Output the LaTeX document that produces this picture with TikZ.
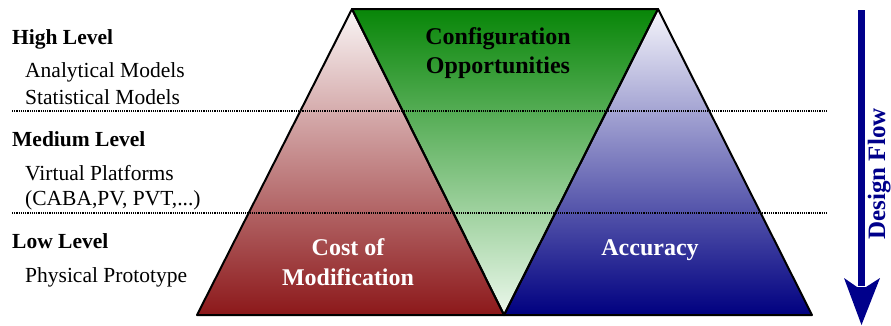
\documentclass[tikz,border=0pt]{standalone}
\usepackage{fontspec}
\setmainfont{Liberation Serif}
\definecolor{redbot}{RGB}{140,24,26}
\definecolor{redtop}{RGB}{250,246,246}
\definecolor{greentop}{RGB}{8,134,8}
\definecolor{greenbot}{RGB}{236,248,236}
\definecolor{bluetop}{RGB}{246,246,252}
\definecolor{bluebot}{RGB}{0,0,128}
\definecolor{flowblue}{RGB}{0,0,139}
\begin{document}
\begin{tikzpicture}[x=1pt,y=-1pt,
  outline/.style={draw=black,line width=2pt,line join=round},
  levelsep/.style={line width=1.1pt,dash pattern=on 1.1pt off 1.1pt},
  lvl/.style={anchor=base west,inner sep=0pt,font=\fontsize{21.5}{26}\selectfont\bfseries},
  sub/.style={anchor=base west,inner sep=0pt,font=\fontsize{21.5}{26}\selectfont},
  big/.style={anchor=base,inner sep=0pt,font=\fontsize{24}{29}\selectfont\bfseries},
]
\useasboundingbox (0,0) rectangle (891,325);
\coordinate (A) at (352,9);
\coordinate (B) at (197,315);
\coordinate (C) at (504,315);
\coordinate (D) at (658,9);
\coordinate (E) at (812,315);
% shaded triangles
\shade[top color=redtop,bottom color=redbot] (A) -- (B) -- (C) -- cycle;
\shade[top color=greentop,bottom color=greenbot] (A) -- (D) -- (C) -- cycle;
\shade[top color=bluetop,bottom color=bluebot] (D) -- (C) -- (E) -- cycle;
\draw[outline] (A) -- (B) -- (C) -- cycle;
\draw[outline] (A) -- (D) -- (C) -- cycle;
\draw[outline] (D) -- (C) -- (E) -- cycle;
% dotted separators
\coordinate (s1a) at (12,111); \coordinate (s1b) at (827,111);
\coordinate (s2a) at (12,213); \coordinate (s2b) at (827,213);
\draw[levelsep] (s1a) -- (s1b);
\draw[levelsep] (s2a) -- (s2b);
% left labels
\node[lvl] (hl) at (12,44) {High Level};
\node[sub] (am) at (25,77) {Analytical Models};
\node[sub] (sm) at (25,104) {Statistical Models};
\node[lvl] (ml) at (12,146) {Medium Level};
\node[sub] (vp) at (25,180) {Virtual Platforms};
\node[sub] (ca) at (25,205) {(CABA,PV, PVT,...)};
\node[lvl] (ll) at (12,248) {Low Level};
\node[sub] (pp) at (25,282) {Physical Prototype};
% triangle labels
\node[big,text=black] (co1) at (498,44) {Configuration};
\node[big,text=black] (co2) at (498,73) {Opportunities};
\node[big,text=white] (cm1) at (348,255) {Cost of};
\node[big,text=white] (cm2) at (348,285) {Modification};
\node[big,text=white] (acc) at (650,255) {Accuracy};
% design flow arrow
\coordinate (fs) at (861.5,10);
\coordinate (fe) at (861.5,286);
\draw[flowblue,line width=7pt] (fs) -- (fe);
\fill[flowblue] (844,278) -- (861.5,325) -- (880,278) -- (866,287) -- (857,287) -- cycle;
\node[anchor=base,inner sep=0pt,rotate=90,text=flowblue,font=\fontsize{25}{30}\selectfont\bfseries] (df) at (885,174) {Design Flow};
\end{tikzpicture}
\end{document}
